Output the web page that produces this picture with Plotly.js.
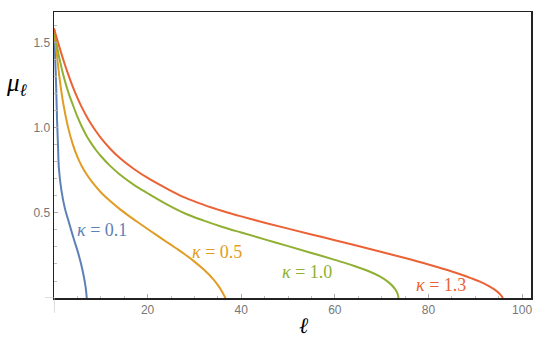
<!DOCTYPE html>
<html>
<head>
<meta charset="utf-8">
<script src="https://cdn.plot.ly/plotly-3.0.1.min.js"></script>
<style>html,body{margin:0;padding:0;background:#fff;}#plot{width:542px;height:346px;}</style>
</head>
<body>
<div id="plot"></div>
<script>
// kappa = 0.1
const ell01 = [0, 0.2, 0.45, 0.65, 0.85, 1.05, 1.6, 2.3, 3.05, 4.1, 5.2, 6.1, 6.75, 7.0];
const mu01  = [1.585, 1.45, 1.25, 1.05, 0.9, 0.76, 0.63, 0.53, 0.457, 0.359, 0.261, 0.163, 0.065, 0];
// kappa = 0.5
const ell05 = [0, 0.3, 0.7, 1.2, 2, 3, 4, 5, 6, 7, 8, 10, 12, 14, 16, 18, 20, 22, 24, 26, 28, 30, 32, 34, 35.2, 36.0, 36.35, 36.55, 36.6];
const mu05  = [1.585, 1.51, 1.41, 1.29, 1.14, 1.005, 0.905, 0.83, 0.772, 0.726, 0.687, 0.622, 0.57, 0.524, 0.483, 0.444, 0.406, 0.368, 0.331, 0.294, 0.256, 0.214, 0.167, 0.111, 0.068, 0.033, 0.014, 0.004, 0];
// kappa = 1.0
const ell10 = [0, 0.5, 1, 2, 3, 4, 5, 6, 7, 8, 9, 10, 12, 14, 17, 20, 24, 28, 32, 36, 40, 45, 50, 55, 60, 64, 67, 69.5, 71.5, 72.8, 73.4, 73.6];
const mu10  = [1.585, 1.50, 1.43, 1.31, 1.215, 1.138, 1.066, 1.004, 0.952, 0.908, 0.869, 0.835, 0.777, 0.728, 0.667, 0.616, 0.552, 0.497, 0.455, 0.418, 0.385, 0.345, 0.305, 0.265, 0.224, 0.19, 0.16, 0.128, 0.092, 0.055, 0.025, 0];
// kappa = 1.3
const ell13 = [0, 1, 2, 3, 4, 5, 6, 7, 8, 9, 10, 12, 14, 17, 20, 24, 28, 32, 36, 40, 45, 50, 55, 60, 65, 70, 75, 80, 85, 88, 91, 93, 94.5, 95.5, 95.9];
const mu13  = [1.585, 1.49, 1.40, 1.318, 1.243, 1.177, 1.118, 1.066, 1.02, 0.979, 0.942, 0.878, 0.825, 0.76, 0.706, 0.645, 0.59, 0.548, 0.512, 0.48, 0.443, 0.408, 0.374, 0.34, 0.306, 0.271, 0.235, 0.197, 0.156, 0.128, 0.096, 0.068, 0.042, 0.016, 0];

const kappaValues = ["0.1", "0.5", "1.0", "1.3"];
const labelX = [10.3, 34.8, 54.0, 82.6];
const labelY = [0.40, 0.27, 0.153, 0.075];

const xTickVals = [20, 40, 60, 80, 100];
const xTickText = ["20", "40", "60", "80", "100"];
const yTickVals = [0.5, 1.0, 1.5];
const yTickText = ["0.5", "1.0", "1.5"];

const colors = ["#5E81B5", "#E19C24", "#8FB032", "#EB6235"];
const series = [[ell01, mu01], [ell05, mu05], [ell10, mu10], [ell13, mu13]];

const traces = series.map((s, i) => ({
  x: s[0], y: s[1], type: 'scatter', mode: 'lines',
  line: {color: colors[i], width: 2, shape: 'spline', smoothing: 1},
  hoverinfo: 'skip', showlegend: false
}));

const annotations = kappaValues.map((v, i) => ({
  x: labelX[i], y: labelY[i], xref: 'x', yref: 'y',
  text: '<i>κ</i> = ' + v,
  showarrow: false,
  font: {family: 'Liberation Serif, serif', size: 18, color: colors[i]}
}));
annotations.push({
  xref: 'paper', yref: 'paper', x: -0.077, y: 0.745, xanchor: 'center', yanchor: 'middle',
  text: '<i>μ</i><sub><i>ℓ</i></sub>', showarrow: false,
  font: {family: 'Liberation Serif, serif', size: 25, color: '#000'}
});
annotations.push({
  xref: 'paper', yref: 'paper', x: 0.525, y: -0.095, xanchor: 'center', yanchor: 'middle',
  text: '<i>ℓ</i>', showarrow: false,
  font: {family: 'Liberation Serif, serif', size: 22, color: '#000'}
});

const layout = {
  width: 542, height: 346,
  margin: {l: 54, r: 11, t: 12, b: 48},
  paper_bgcolor: '#fff', plot_bgcolor: '#fff',
  xaxis: {
    range: [0, 101.9], showgrid: false, zeroline: false,
    showline: true, mirror: true, linecolor: '#222', linewidth: 1.5,
    tickmode: 'array', tickvals: xTickVals, ticktext: xTickText,
    ticks: 'inside', ticklen: 4, tickcolor: '#aaa', tickwidth: 1,
    minor: {ticks: 'inside', dtick: 5, tick0: 0, ticklen: 2.5, tickcolor: '#bbb', showgrid: false},
    tickfont: {family: 'Liberation Sans, Arial, sans-serif', size: 12, color: '#777'}
  },
  yaxis: {
    range: [0, 1.682], showgrid: false, zeroline: false,
    showline: true, mirror: true, linecolor: '#222', linewidth: 1.5,
    tickmode: 'array', tickvals: yTickVals, ticktext: yTickText,
    ticks: 'inside', ticklen: 4, tickcolor: '#aaa', tickwidth: 1,
    minor: {ticks: 'inside', dtick: 0.1, tick0: 0, ticklen: 2.5, tickcolor: '#bbb', showgrid: false},
    tickfont: {family: 'Liberation Sans, Arial, sans-serif', size: 12, color: '#777'}
  },
  shapes: [
    {type: 'line', xref: 'x', yref: 'paper', x0: 0, x1: 0, y0: 0, y1: -0.052, line: {color: '#bbb', width: 1}},
    {type: 'line', xref: 'paper', yref: 'y', x0: 0, x1: -0.019, y0: 0, y1: 0, line: {color: '#bbb', width: 1}}
  ],
  annotations: annotations
};

Plotly.newPlot('plot', traces, layout, {staticPlot: true, displayModeBar: false});
</script>
</body>
</html>
